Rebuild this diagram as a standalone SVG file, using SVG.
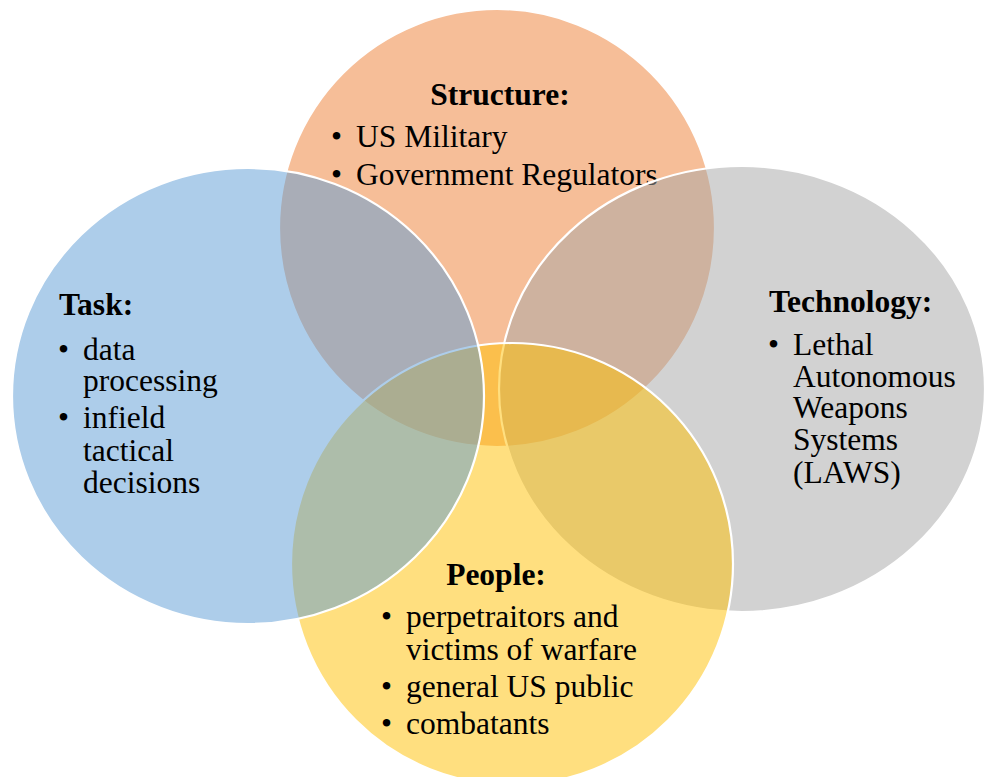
<svg xmlns="http://www.w3.org/2000/svg" width="984" height="777" viewBox="0 0 984 777">
  <style>
    .set { stroke: #FFFFFF; stroke-width: 2.2; fill-opacity: 0.5; }
    .orange { fill: #ED7D31; }
    .gray { fill: #A5A5A5; }
    .yellow { fill: #FFC000; }
    .blue { fill: #5B9BD5; }
    text { font-family: "Liberation Serif", "Times New Roman", serif; font-size: 31.5px; fill: #000000; }
    .head { font-weight: bold; }
  </style>
  <rect x="0" y="0" width="984" height="777" fill="#FFFFFF"/>

  <!-- Structure -->
  <g id="structure">
    <ellipse class="set orange" cx="497" cy="228" rx="218" ry="219"/>
    <text class="head" x="500" y="105" text-anchor="middle">Structure:</text>
    <text x="331" y="147">•</text>
    <text x="356" y="147">US Military</text>
    <text x="331" y="185">•</text>
    <text x="356" y="185">Government Regulators</text>
  </g>

  <!-- Technology -->
  <g id="technology">
    <ellipse class="set gray" cx="742" cy="389" rx="243" ry="223"/>
    <text class="head" x="769" y="312">Technology:</text>
    <text x="768" y="355">•</text>
    <text x="793" y="355">Lethal</text>
    <text x="793" y="387">Autonomous</text>
    <text x="793" y="418">Weapons</text>
    <text x="793" y="450">Systems</text>
    <text x="793" y="483">(LAWS)</text>
  </g>

  <!-- People -->
  <g id="people">
    <ellipse class="set yellow" cx="512" cy="564" rx="221" ry="221"/>
    <text class="head" x="496" y="585" text-anchor="middle">People:</text>
    <text x="381" y="627">•</text>
    <text x="406" y="627">perpetraitors and</text>
    <text x="406" y="660">victims of warfare</text>
    <text x="381" y="697">•</text>
    <text x="406" y="697">general US public</text>
    <text x="381" y="734">•</text>
    <text x="406" y="734">combatants</text>
  </g>

  <!-- Task -->
  <g id="task">
    <ellipse class="set blue" cx="248" cy="396" rx="236" ry="228"/>
    <text class="head" x="59" y="315">Task:</text>
    <text x="58" y="360">•</text>
    <text x="83" y="360">data</text>
    <text x="83" y="391">processing</text>
    <text x="58" y="428">•</text>
    <text x="83" y="428">infield</text>
    <text x="83" y="461">tactical</text>
    <text x="83" y="493">decisions</text>
  </g>
</svg>
